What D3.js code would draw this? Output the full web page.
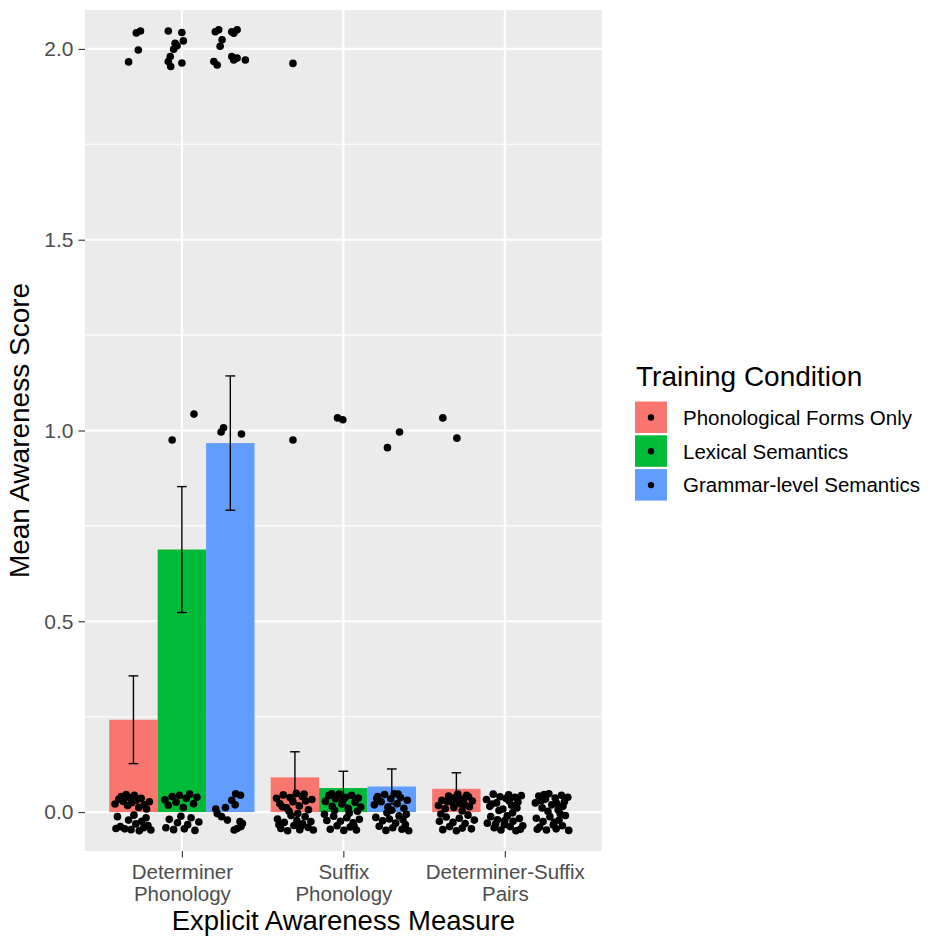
<!DOCTYPE html>
<html>
<head>
<meta charset="utf-8">
<script src="https://cdn.jsdelivr.net/npm/d3@7"></script>
<style>
  body { margin: 0; background: #fff; }
  svg { display: block; }
  text { font-family: "Liberation Sans", Arial, sans-serif; }
</style>
</head>
<body>
<svg id="chart" width="928" height="938"></svg>
<script>
// Categories
const measures = ["Determiner Phonology", "Suffix Phonology", "Determiner-Suffix Pairs"];
const measureTickLines = [["Determiner", "Phonology"], ["Suffix", "Phonology"], ["Determiner-Suffix", "Pairs"]];
const conditions = ["Phonological Forms Only", "Lexical Semantics", "Grammar-level Semantics"];
const conditionColors = ["#F8766D", "#00BA38", "#619CFF"];

// Mean awareness score per measure, one array per training condition
const phonMeans = [0.242, 0.091, 0.061];
const lexMeans  = [0.688, 0.063, 0.0];
const gramMeans = [0.967, 0.067, 0.0];

// Standard errors of the means
const phonSE = [0.115, 0.067, 0.042];
const lexSE  = [0.165, 0.044, 0.0];
const gramSE = [0.176, 0.046, 0.0];

// Y axis ticks
const yTicks = [0, 0.5, 1.0, 1.5, 2.0];
const yMinorTicks = [0.25, 0.75, 1.25, 1.75];

// Individual participant scores: [horizontal jitter (bar widths), jittered score]
const phonPoints = [
  [ // Determiner Phonology
    [0.06,2.042],[0.145,2.047],[0.10,1.997],[-0.10,1.966],
    [-0.38,0.021],[-0.30,0.034],[-0.25,0.041],[-0.21,0.028],[-0.15,0.046],[-0.12,0.017],[-0.08,0.038],[-0.03,0.025],[0.02,0.044],[0.06,0.031],[0.11,0.012],[0.16,0.036],[0.22,0.019],[0.27,0.008],[0.33,0.027],
    [-0.33,-0.012],[-0.27,-0.038],[-0.18,-0.044],[-0.10,-0.021],[-0.05,-0.046],[0.01,-0.008],[0.05,-0.031],[0.12,-0.049],[0.17,-0.024],[0.21,-0.041],[0.26,-0.015],[0.30,-0.035],[0.36,-0.047],[-0.36,-0.043]
  ],
  [ // Suffix Phonology
    [-0.04,1.962],[-0.04,0.975],
    [-0.38,0.036],[-0.31,0.022],[-0.24,0.045],[-0.17,0.011],[-0.10,0.038],[-0.04,0.027],[0.03,0.049],[0.09,0.016],[0.15,0.041],[0.22,0.029],[0.28,0.006],[0.35,0.033],
    [-0.36,-0.018],[-0.29,-0.043],[-0.22,-0.027],[-0.15,-0.049],[-0.08,-0.009],[-0.02,-0.035],[0.04,-0.022],[0.10,-0.046],[0.16,-0.031],[0.21,-0.012],[0.27,-0.040],[0.33,-0.025],[0.38,-0.047],
    [-0.12,0.002],[0.06,-0.004],[-0.26,0.014],[0.19,0.047],[-0.33,-0.033],[0.12,-0.038]
  ],
  [ // Determiner-Suffix Pairs
    [-0.28,1.033],[0.01,0.980],
    [-0.37,0.017],[-0.30,0.031],[-0.23,0.009],[-0.16,0.042],[-0.09,0.026],[-0.03,0.038],[0.03,0.047],[0.09,0.021],[0.15,0.035],[0.21,0.044],[0.27,0.014],[0.33,0.029],
    [-0.35,-0.024],[-0.28,-0.046],[-0.21,-0.013],[-0.14,-0.038],[-0.07,-0.027],[0.00,-0.049],[0.06,-0.016],[0.12,-0.042],[0.18,-0.030],[0.24,-0.008],[0.31,-0.044],[0.37,-0.021],
    [-0.05,0.012],[0.12,0.003],[0.25,0.040],[-0.19,0.028],[0.05,0.032],[-0.32,-0.005],[0.17,0.019]
  ]
];

const lexPoints = [
  [ // Determiner Phonology
    [-0.28,2.047],[0.00,2.043],[0.03,2.021],[-0.14,2.015],[-0.10,2.008],[-0.17,1.999],[-0.24,1.980],[-0.28,1.967],[0.00,1.963],[-0.23,1.954],
    [-0.20,0.975],[0.25,1.043],
    [-0.35,0.032],[-0.28,0.018],[-0.20,0.041],[-0.12,0.026],[-0.05,0.044],[0.03,0.012],[0.09,0.036],[0.16,0.047],[0.24,0.022],[0.31,0.039],
    [-0.33,-0.041],[-0.26,-0.019],[-0.17,-0.046],[-0.09,-0.028],[-0.02,-0.011],[0.05,-0.044],[0.12,-0.033],[0.19,-0.015],[0.27,-0.048],[0.35,-0.026]
  ],
  [ // Suffix Phonology
    [-0.12,1.033],[-0.01,1.028],
    [-0.37,0.028],[-0.30,0.043],[-0.23,0.015],[-0.16,0.035],[-0.09,0.047],[-0.03,0.021],[0.04,0.039],[0.10,0.009],[0.17,0.044],[0.24,0.026],[0.31,0.037],[0.36,0.013],
    [-0.34,-0.022],[-0.27,-0.045],[-0.20,-0.011],[-0.13,-0.036],[-0.06,-0.024],[0.01,-0.048],[0.07,-0.015],[0.14,-0.039],[0.20,-0.028],[0.27,-0.047],[0.33,-0.019],
    [-0.18,0.004],[0.12,-0.003],[-0.39,-0.006],[0.29,0.002],[-0.01,0.031],[0.22,-0.036],[-0.24,0.048]
  ],
  [ // Determiner-Suffix Pairs
    [-0.38,0.033],[-0.31,0.015],[-0.24,0.047],[-0.17,0.024],[-0.10,0.040],[-0.04,0.008],[0.02,0.036],[0.08,0.045],[0.14,0.018],[0.21,0.039],[0.27,0.026],[0.34,0.043],
    [-0.36,-0.029],[-0.29,-0.012],[-0.22,-0.041],[-0.15,-0.020],[-0.08,-0.047],[-0.01,-0.033],[0.05,-0.010],[0.11,-0.038],[0.17,-0.024],[0.23,-0.049],[0.30,-0.017],[0.37,-0.036],
    [-0.12,0.004],[0.16,-0.002],[-0.27,0.021],[0.25,0.011],[0.00,-0.022],[-0.19,-0.031],[0.09,0.029],[0.32,-0.045]
  ]
];

const gramPoints = [
  [ // Determiner Phonology
    [-0.31,2.045],[-0.24,2.050],[-0.17,2.024],[-0.21,2.007],[0.03,2.045],[0.14,2.050],[0.07,2.041],[-0.34,1.967],[-0.27,1.958],[0.03,1.980],[0.07,1.971],[0.14,1.976],[0.31,1.971],
    [-0.19,0.996],[-0.14,1.007],[0.23,0.991],
    [-0.30,0.008],[-0.27,-0.004],[-0.18,-0.012],[-0.06,-0.021],[0.03,0.031],[0.11,0.048],[0.10,0.019],[0.21,0.044],[0.20,-0.025],[0.22,-0.038],[0.14,-0.043],[0.25,-0.030],[0.08,-0.047],[-0.10,0.012]
  ],
  [ // Suffix Phonology
    [-0.09,0.955],[0.16,0.996],
    [-0.36,0.019],[-0.29,0.041],[-0.22,0.027],[-0.15,0.046],[-0.08,0.013],[-0.02,0.035],[0.05,0.048],[0.11,0.022],[0.18,0.038],[0.25,0.010],[0.32,0.031],
    [-0.33,-0.014],[-0.26,-0.037],[-0.19,-0.023],[-0.12,-0.048],[-0.05,-0.018],[0.02,-0.041],[0.08,-0.029],[0.15,-0.010],[0.21,-0.045],[0.28,-0.033],[0.35,-0.049],
    [0.00,0.005],[-0.10,-0.002],[0.23,-0.020],[0.13,0.047],[-0.31,0.036],[0.30,-0.006]
  ],
  [ // Determiner-Suffix Pairs
    [-0.37,0.024],[-0.30,0.042],[-0.23,0.011],[-0.16,0.034],[-0.09,0.048],[-0.03,0.019],[0.04,0.037],[0.10,0.006],[0.17,0.044],[0.23,0.027],[0.30,0.039],
    [-0.35,-0.016],[-0.28,-0.039],[-0.21,-0.025],[-0.14,-0.047],[-0.07,-0.012],[0.00,-0.034],[0.06,-0.044],[0.12,-0.021],[0.19,-0.036],[0.25,-0.009],[0.32,-0.048],
    [-0.11,0.002],[0.14,-0.004],[-0.25,0.030],[0.07,0.023],[-0.33,-0.045],[0.20,0.015],[0.02,-0.027],[-0.19,0.046]
  ]
];

const meansByCondition = [phonMeans, lexMeans, gramMeans];
const seByCondition = [phonSE, lexSE, gramSE];
const pointsByCondition = [phonPoints, lexPoints, gramPoints];

// Flatten into rows for drawing
const barRows = [];
const pointRows = [];
conditions.forEach((cond, ci) => {
  measures.forEach((m, mi) => {
    barRows.push({ measure: m, condition: cond, ci, mean: meansByCondition[ci][mi], se: seByCondition[ci][mi] });
    pointsByCondition[ci][mi].forEach(([dx, v]) => pointRows.push({ measure: m, condition: cond, dx, v }));
  });
});

// Layout
const panel = { left: 85, right: 601.7, top: 10, bottom: 851 };
const svg = d3.select("#chart");

const x = d3.scalePoint().domain(measures).range([panel.left, panel.right]).padding(0.6);
const step = x.step();
const dodge = d3.scaleBand().domain(conditions).range([-0.45 * step, 0.45 * step]).padding(0);
const bw = dodge.bandwidth();
const barCenter = (m, c) => x(m) + dodge(c) + bw / 2;

const y = d3.scaleLinear().domain([-0.102, 2.102]).range([panel.bottom, panel.top]);
const color = d3.scaleOrdinal().domain(conditions).range(conditionColors);

// Panel background
svg.append("rect")
  .attr("x", panel.left).attr("y", panel.top)
  .attr("width", panel.right - panel.left).attr("height", panel.bottom - panel.top)
  .attr("fill", "#EBEBEB");

// Grid
const grid = svg.append("g");
grid.selectAll("line.minor").data(yMinorTicks).join("line")
  .attr("x1", panel.left).attr("x2", panel.right)
  .attr("y1", d => y(d)).attr("y2", d => y(d))
  .attr("stroke", "#fff").attr("stroke-width", 1.05);
grid.selectAll("line.majory").data(yTicks).join("line")
  .attr("x1", panel.left).attr("x2", panel.right)
  .attr("y1", d => y(d)).attr("y2", d => y(d))
  .attr("stroke", "#fff").attr("stroke-width", 2.1);
grid.selectAll("line.majorx").data(measures).join("line")
  .attr("x1", d => x(d)).attr("x2", d => x(d))
  .attr("y1", panel.top).attr("y2", panel.bottom)
  .attr("stroke", "#fff").attr("stroke-width", 2.1);

// Bars
svg.append("g").selectAll("rect").data(barRows).join("rect")
  .attr("x", d => x(d.measure) + dodge(d.condition))
  .attr("width", bw)
  .attr("y", d => Math.min(y(d.mean), y(0)))
  .attr("height", d => Math.abs(y(0) - y(d.mean)))
  .attr("fill", d => color(d.condition));

// Error bars (mean ± SE)
const capHalf = bw * 0.1;
const eb = svg.append("g").attr("stroke", "#000").attr("stroke-width", 1.4);
barRows.filter(d => d.se > 0).forEach(d => {
  const cx = barCenter(d.measure, d.condition);
  const y1 = y(d.mean + d.se), y0 = y(d.mean - d.se);
  eb.append("line").attr("x1", cx).attr("x2", cx).attr("y1", y1).attr("y2", y0);
  eb.append("line").attr("x1", cx - capHalf).attr("x2", cx + capHalf).attr("y1", y1).attr("y2", y1);
  eb.append("line").attr("x1", cx - capHalf).attr("x2", cx + capHalf).attr("y1", y0).attr("y2", y0);
});

// Participant points
svg.append("g").selectAll("circle").data(pointRows).join("circle")
  .attr("cx", d => barCenter(d.measure, d.condition) + d.dx * bw)
  .attr("cy", d => y(d.v))
  .attr("r", 3.8)
  .attr("fill", "#000");

// Y axis
const yAxis = svg.append("g")
  .attr("transform", `translate(${panel.left},0)`)
  .call(d3.axisLeft(y).tickValues(yTicks).tickFormat(d3.format(".1f")).tickSize(6.5).tickPadding(5));
yAxis.select(".domain").remove();
yAxis.selectAll(".tick line").attr("stroke", "#333").attr("stroke-width", 1.1);
yAxis.selectAll(".tick text").attr("fill", "#4D4D4D").style("font-size", "21px")
  .style("font-family", "'Liberation Sans', Arial, sans-serif");

// X axis
const xAxis = svg.append("g")
  .attr("transform", `translate(0,${panel.bottom})`)
  .call(d3.axisBottom(x).tickSize(6.5).tickPadding(5));
xAxis.select(".domain").remove();
xAxis.selectAll(".tick line").attr("stroke", "#333").attr("stroke-width", 1.1);
xAxis.selectAll(".tick text").each(function(d) {
  const lines = measureTickLines[measures.indexOf(d)];
  const t = d3.select(this).text(null).attr("y", 0).attr("dy", null)
    .attr("fill", "#4D4D4D").style("font-size", "20.5px")
    .style("font-family", "'Liberation Sans', Arial, sans-serif");
  lines.forEach((ln, i) => {
    t.append("tspan").attr("x", 0).attr("y", 28 + i * 21.5).text(ln);
  });
});

// Axis titles
svg.append("text")
  .attr("x", (panel.left + panel.right) / 2).attr("y", 930)
  .attr("text-anchor", "middle").style("font-size", "27.5px").attr("fill", "#000")
  .text("Explicit Awareness Measure");
svg.append("text")
  .attr("transform", `translate(29,${(panel.top + panel.bottom) / 2}) rotate(-90)`)
  .attr("text-anchor", "middle").style("font-size", "28px").attr("fill", "#000")
  .text("Mean Awareness Score");

// Legend
const legend = svg.append("g").attr("transform", "translate(635,0)");
legend.append("text").attr("x", 1).attr("y", 386)
  .style("font-size", "28px").attr("fill", "#000").text("Training Condition");
const keyStep = 33.8, keyTop = 401.5, keySize = 32;
conditions.forEach((c, i) => {
  const ky = keyTop + i * keyStep;
  legend.append("rect").attr("x", 0).attr("y", ky).attr("width", keySize).attr("height", keySize - 0.5)
    .attr("fill", color(c));
  legend.append("circle").attr("cx", keySize / 2).attr("cy", ky + keySize / 2).attr("r", 3.2).attr("fill", "#000");
  legend.append("text").attr("x", 48).attr("y", ky + keySize / 2 + 7.3)
    .style("font-size", "20.5px").attr("fill", "#000").text(c);
});
</script>
</body>
</html>
